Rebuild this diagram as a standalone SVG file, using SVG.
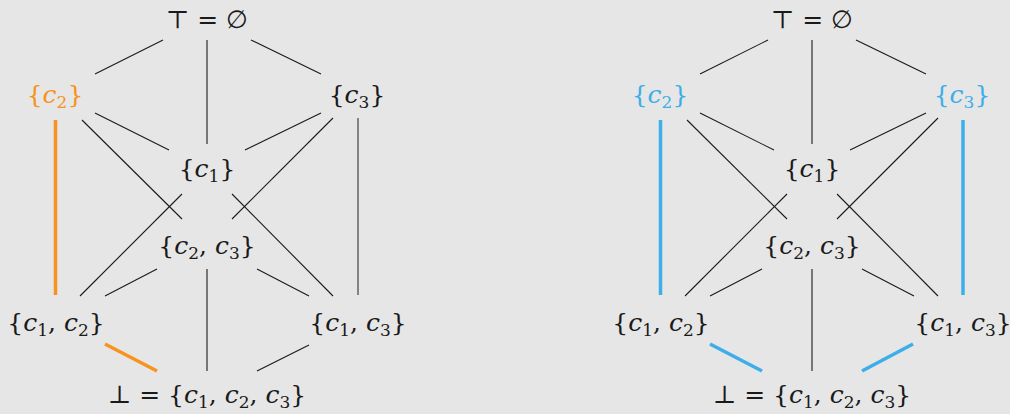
<svg xmlns="http://www.w3.org/2000/svg" width="1010" height="414" viewBox="0 0 1010 414">
<style>
.t{font-family:"DejaVu Serif","Liberation Serif",serif;font-size:25px;fill:#1a1a1a;text-anchor:middle}
.i{font-style:italic}
.s{font-size:17px}
.e{stroke:#1a1a1a;stroke-width:1.1;fill:none}
.g{stroke:#5a5a5a;stroke-width:1.4;fill:none}
.o{stroke:#f7931e;stroke-width:3.5;fill:none}
.b{stroke:#3daee9;stroke-width:3.5;fill:none}
.os{fill:#f7931e}
.bs{fill:#3daee9}
</style>
<rect width="1010" height="414" fill="#e6e6e6"/>
<g id="connectors-left">
<line class="e" x1="163" y1="40" x2="95" y2="74"/>
<line class="e" x1="207" y1="40" x2="207" y2="144"/>
<line class="e" x1="251" y1="40" x2="321" y2="74"/>
<line class="o" x1="55.5" y1="120" x2="55.5" y2="295"/>
<line class="e" x1="95" y1="113" x2="169" y2="150"/>
<line class="e" x1="82" y1="120" x2="182" y2="219"/>
<line class="e" x1="333" y1="118" x2="232" y2="219"/>
<line class="e" x1="321" y1="113" x2="245" y2="150"/>
<line class="g" x1="358" y1="118" x2="358" y2="295"/>
<line class="e" x1="182" y1="194" x2="80" y2="296"/>
<line class="e" x1="232" y1="194" x2="333" y2="296"/>
<line class="e" x1="157" y1="269" x2="105" y2="296"/>
<line class="e" x1="257" y1="269" x2="309" y2="296"/>
<line class="e" x1="207" y1="269" x2="207" y2="371"/>
<line class="o" x1="105" y1="344" x2="157" y2="371"/>
<line class="e" x1="309" y1="345" x2="257" y2="371"/>
</g>
<g id="connectors-right">
<line class="e" x1="768" y1="40" x2="700" y2="74"/>
<line class="e" x1="812" y1="40" x2="812" y2="144"/>
<line class="e" x1="856" y1="40" x2="926" y2="74"/>
<line class="b" x1="660.5" y1="120" x2="660.5" y2="295"/>
<line class="e" x1="700" y1="113" x2="774" y2="150"/>
<line class="e" x1="687" y1="120" x2="787" y2="219"/>
<line class="e" x1="938" y1="118" x2="837" y2="219"/>
<line class="e" x1="926" y1="113" x2="850" y2="150"/>
<line class="b" x1="963" y1="120" x2="963" y2="295"/>
<line class="e" x1="787" y1="194" x2="685" y2="296"/>
<line class="e" x1="837" y1="194" x2="938" y2="296"/>
<line class="e" x1="762" y1="269" x2="710" y2="296"/>
<line class="e" x1="862" y1="269" x2="914" y2="296"/>
<line class="e" x1="812" y1="269" x2="812" y2="371"/>
<line class="b" x1="710" y1="344" x2="762" y2="371"/>
<line class="b" x1="913" y1="344" x2="862" y2="371"/>
</g>
<g id="L-top"><text class="t" x="207" y="28">⊤ = ∅</text></g>
<g id="L-c2"><text class="t os" x="55" y="103">{<tspan class="i">c</tspan><tspan class="s" dy="5">2</tspan><tspan dy="-5">}</tspan></text></g>
<g id="L-c3"><text class="t" x="357" y="103">{<tspan class="i">c</tspan><tspan class="s" dy="5">3</tspan><tspan dy="-5">}</tspan></text></g>
<g id="L-c1"><text class="t" x="207" y="177">{<tspan class="i">c</tspan><tspan class="s" dy="5">1</tspan><tspan dy="-5">}</tspan></text></g>
<g id="L-c23"><text class="t" x="207" y="254">{<tspan class="i">c</tspan><tspan class="s" dy="5">2</tspan><tspan dy="-5">, </tspan><tspan class="i">c</tspan><tspan class="s" dy="5">3</tspan><tspan dy="-5">}</tspan></text></g>
<g id="L-c12"><text class="t" x="56" y="331">{<tspan class="i">c</tspan><tspan class="s" dy="5">1</tspan><tspan dy="-5">, </tspan><tspan class="i">c</tspan><tspan class="s" dy="5">2</tspan><tspan dy="-5">}</tspan></text></g>
<g id="L-c13"><text class="t" x="358" y="331">{<tspan class="i">c</tspan><tspan class="s" dy="5">1</tspan><tspan dy="-5">, </tspan><tspan class="i">c</tspan><tspan class="s" dy="5">3</tspan><tspan dy="-5">}</tspan></text></g>
<g id="L-bot"><text class="t" x="207" y="403">⊥ = {<tspan class="i">c</tspan><tspan class="s" dy="5">1</tspan><tspan dy="-5">, </tspan><tspan class="i">c</tspan><tspan class="s" dy="5">2</tspan><tspan dy="-5">, </tspan><tspan class="i">c</tspan><tspan class="s" dy="5">3</tspan><tspan dy="-5">}</tspan></text></g>
<g id="R-top"><text class="t" x="812" y="28">⊤ = ∅</text></g>
<g id="R-c2"><text class="t bs" x="660" y="103">{<tspan class="i">c</tspan><tspan class="s" dy="5">2</tspan><tspan dy="-5">}</tspan></text></g>
<g id="R-c3"><text class="t bs" x="962" y="103">{<tspan class="i">c</tspan><tspan class="s" dy="5">3</tspan><tspan dy="-5">}</tspan></text></g>
<g id="R-c1"><text class="t" x="812" y="177">{<tspan class="i">c</tspan><tspan class="s" dy="5">1</tspan><tspan dy="-5">}</tspan></text></g>
<g id="R-c23"><text class="t" x="812" y="254">{<tspan class="i">c</tspan><tspan class="s" dy="5">2</tspan><tspan dy="-5">, </tspan><tspan class="i">c</tspan><tspan class="s" dy="5">3</tspan><tspan dy="-5">}</tspan></text></g>
<g id="R-c12"><text class="t" x="661" y="331">{<tspan class="i">c</tspan><tspan class="s" dy="5">1</tspan><tspan dy="-5">, </tspan><tspan class="i">c</tspan><tspan class="s" dy="5">2</tspan><tspan dy="-5">}</tspan></text></g>
<g id="R-c13"><text class="t" x="963" y="331">{<tspan class="i">c</tspan><tspan class="s" dy="5">1</tspan><tspan dy="-5">, </tspan><tspan class="i">c</tspan><tspan class="s" dy="5">3</tspan><tspan dy="-5">}</tspan></text></g>
<g id="R-bot"><text class="t" x="812" y="403">⊥ = {<tspan class="i">c</tspan><tspan class="s" dy="5">1</tspan><tspan dy="-5">, </tspan><tspan class="i">c</tspan><tspan class="s" dy="5">2</tspan><tspan dy="-5">, </tspan><tspan class="i">c</tspan><tspan class="s" dy="5">3</tspan><tspan dy="-5">}</tspan></text></g>
</svg>
